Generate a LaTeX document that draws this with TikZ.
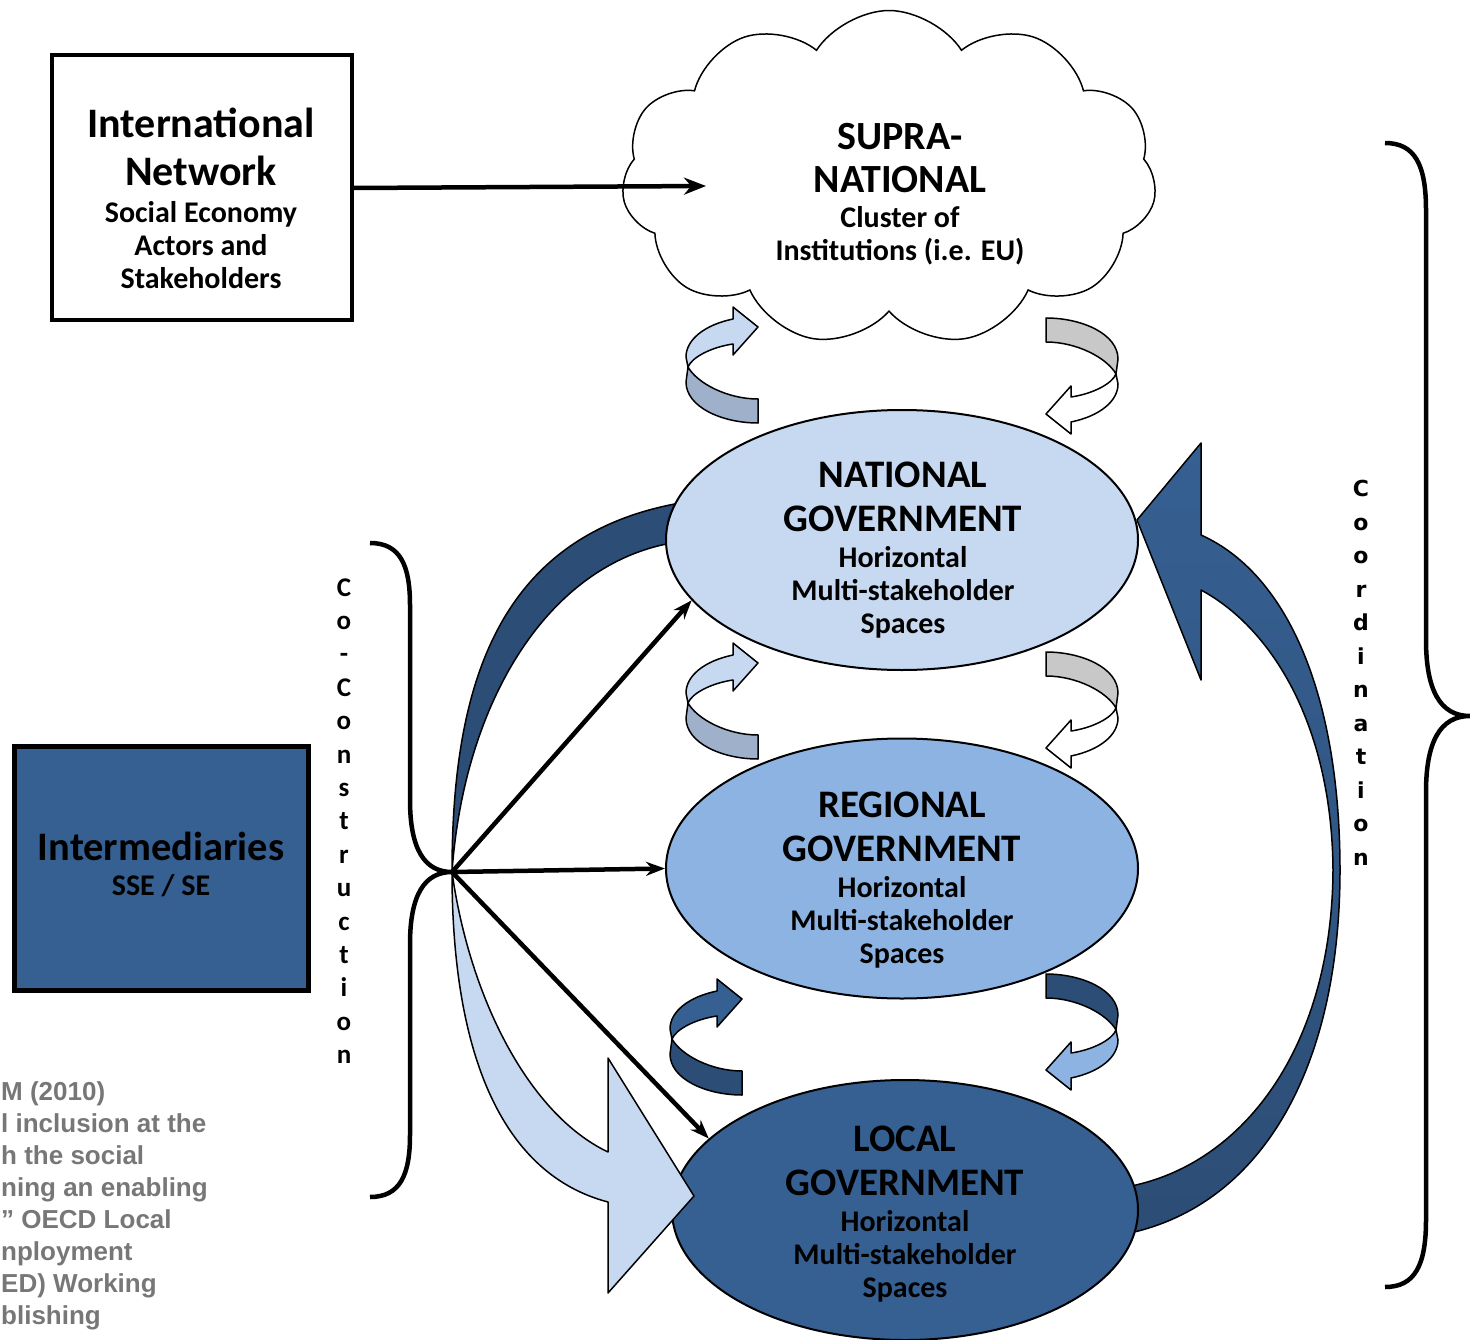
\documentclass[tikz,border=0pt]{standalone}
\usepackage{fontspec}
\setmainfont{Carlito}
\newfontfamily\arialfont{Liberation Sans}
\newfontfamily\dejafont{DejaVu Sans}
\usetikzlibrary{shapes.geometric,shapes.symbols,arrows.meta}

\definecolor{natblue}{HTML}{C6D9F1}
\definecolor{regblue}{HTML}{8DB3E2}
\definecolor{locblue}{HTML}{366092}
\definecolor{darkblue}{HTML}{2C4D75}
\definecolor{tailblue}{HTML}{9FB0CA}
\definecolor{tailgray}{HTML}{C8C8C8}
\definecolor{textgray}{HTML}{777777}

\newcommand{\headtxt}[2][39]{{\fontsize{#1}{46}\selectfont #2}}

% circular ribbon arrow: centre, angle, tail colour, head colour
\newcommand{\ribbon}[4]{%
  \begin{scope}[shift={(#1)}, rotate=#2, line width=1.5pt, line join=round]
    \filldraw[fill=#4] (-36,-8) .. controls (-36,-25) and (-18,-40) .. (11,-46) -- (11,-58) -- (36,-38) -- (11,-10) -- (11,-21) .. controls (-10,-18) and (-30,-8) .. (-34,2) -- cycle;
    \filldraw[fill=#3] (36,34) -- (36,58) .. controls (0,58) and (-36,42) .. (-36,17) -- (-34,2) .. controls (-25,18) and (5,34) .. (36,34) -- cycle;
  \end{scope}}

\begin{document}
\begin{tikzpicture}[x=1pt, y=-1pt,
    level/.style = {draw, ellipse, line width=2pt, minimum width=472pt, minimum height=260pt, inner sep=0pt},
    lvltext/.style = {align=center, inner sep=0pt, font=\bfseries\fontsize{30}{33}\selectfont},
    bigarrow/.style = {draw, line width=1.5pt, line join=round},
    link/.style = {line width=4.5pt, -{Stealth[length=19pt,width=14pt]}},
    brace/.style = {line width=4.5pt},
    vtext/.style = {align=center, inner sep=0pt, font=\bfseries\fontsize{27}{33.4}\selectfont}]

\useasboundingbox (0,0) rectangle (1470,1340);
\clip (0,0) rectangle (1470,1340);

% boxes on the left
\node[draw, line width=4pt, minimum width=300pt, minimum height=265pt] (intl) at (202,188) {};
\node[lvltext] at (201,198) {\headtxt[42]{International}\\[15pt]\headtxt[42]{Network}\\[4pt]Social Economy\\Actors and\\Stakeholders};
\node[draw, line width=5pt, fill=locblue, minimum width=294pt, minimum height=244pt] (inter) at (161.5,868.5) {};
\node[lvltext] at (161,864) {\headtxt[40.5]{Intermediaries}\\[2pt]SSE / SE};

% supra-national cloud
\node[cloud, draw, fill=white, line width=1.5pt, cloud puffs=11, cloud puff arc=115, aspect=1.6, minimum width=535pt, minimum height=335pt, inner sep=0pt] (supra) at (889,178) {};
\node[lvltext] at (900,194) {\headtxt[40]{SUPRA-}\\[10pt]\headtxt[40]{NATIONAL}\\[2pt]Cluster of\\Institutions (i.e. EU)};
\coordinate (cloudin) at (706,186);
\draw[line width=4.5pt, -{Stealth[length=22pt,width=17pt]}] (intl.east) -- (cloudin);

% big curved arrows behind the levels
\coordinate (hub) at (452,872);
\filldraw[bigarrow, fill=darkblue] (hub) .. controls (452,680) and (500,525) .. (700,500) -- (700,540) .. controls (560,545) and (465,690) .. (hub) -- cycle;
\filldraw[bigarrow, top color=locblue, bottom color=darkblue] (1120,1235) .. controls (1260,1210) and (1340,1070) .. (1340,870) .. controls (1340,700) and (1290,575) .. (1201,535) -- (1201,443) -- (1137,520) -- (1201,680) -- (1201,590) .. controls (1275,630) and (1332,730) .. (1333,870) .. controls (1332,1050) and (1240,1170) .. (1120,1188) -- cycle;

% government levels
\node[level, fill=natblue] (national) at (902,540) {};
\node[lvltext] at (903,550) {\headtxt{NATIONAL}\\[11pt]\headtxt{GOVERNMENT}\\[3pt]Horizontal\\Multi-stakeholder\\Spaces};
\node[level, fill=regblue] (regional) at (902,868.5) {};
\node[lvltext] at (902,880) {\headtxt{REGIONAL}\\[11pt]\headtxt{GOVERNMENT}\\[3pt]Horizontal\\Multi-stakeholder\\Spaces};
\node[level, fill=locblue, minimum width=466pt] (local) at (905,1210) {};
\node[lvltext] at (905,1214) {\headtxt{LOCAL}\\[11pt]\headtxt{GOVERNMENT}\\[3pt]Horizontal\\Multi-stakeholder\\Spaces};

\filldraw[bigarrow, fill=natblue] (hub) .. controls (470,1000) and (530,1115) .. (608,1152) -- (608,1058) -- (694,1196) -- (608,1293) -- (608,1202) .. controls (505,1175) and (452,1060) .. (hub) -- cycle;

% exchanges between levels
\ribbon{722,365}{0}{tailblue}{natblue}
\ribbon{1082,376}{180}{tailgray}{white}
\ribbon{722,701}{0}{tailblue}{natblue}
\ribbon{1082,710}{180}{tailgray}{white}
\ribbon{706,1037}{0}{darkblue}{locblue}
\ribbon{1082,1032}{180}{darkblue}{regblue}

% co-construction links
\draw[link] (hub) -- (national.196);
\draw[link] (hub) -- (regional.west);
\draw[link] (hub) -- (local.160);

% braces
\draw[brace] (370,543) .. controls (400,543) and (410,565) .. (410,605) -- (410,800) .. controls (410,850) and (425,872) .. (hub) .. controls (425,872) and (410,894) .. (410,944) -- (410,1135) .. controls (410,1175) and (400,1197) .. (370,1197);
\draw[brace] (1385,143) .. controls (1415,143) and (1426,165) .. (1426,210) -- (1426,640) .. controls (1426,690) and (1440,716) .. (1470,716) .. controls (1440,716) and (1426,742) .. (1426,792) -- (1426,1220) .. controls (1426,1265) and (1415,1287) .. (1385,1287);

\node[vtext] (cocon) at (344,821) {C\\o\\-\\C\\o\\n\\s\\t\\r\\u\\c\\t\\i\\o\\n};
\node[align=center, inner sep=0pt, font=\dejafont\bfseries\fontsize{22}{33.5}\selectfont] (coord) at (1361,673) {C\\o\\o\\r\\d\\i\\n\\a\\t\\i\\o\\n};

% source note, cut by the page edge
\node[anchor=north west, align=left, inner sep=0pt, text=textgray, font=\arialfont\bfseries\fontsize{26}{32}\selectfont] (source) at (1,1081) {M (2010)\\l inclusion at the\\h the social\\ning an enabling\\” OECD Local\\nployment\\ED) Working\\blishing};
\end{tikzpicture}
\end{document}
